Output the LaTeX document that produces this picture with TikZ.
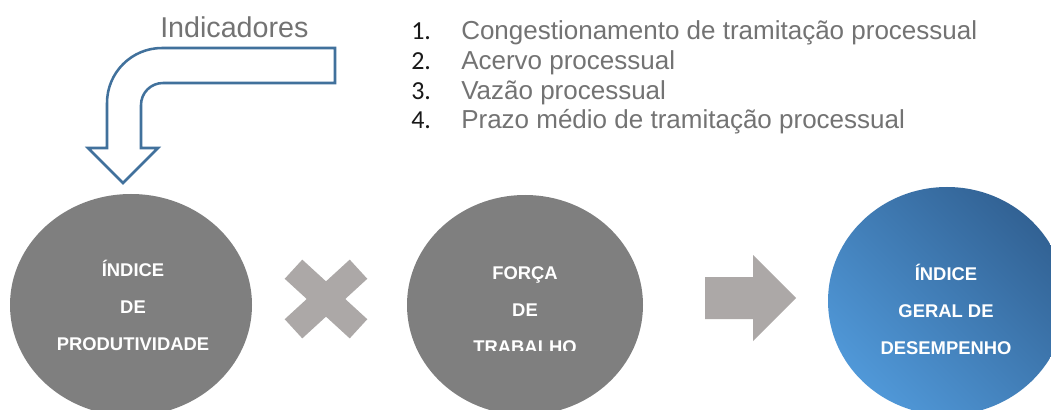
\documentclass[tikz,border=0pt]{standalone}
\usepackage{fontspec}
\setmainfont{Liberation Sans}
\newfontfamily\numfont{Carlito}
\usetikzlibrary{shapes.geometric}
\definecolor{circgray}{RGB}{127,127,127}
\definecolor{markgray}{RGB}{172,168,167}
\definecolor{outlineblue}{RGB}{65,113,156}
\definecolor{bluedark}{RGB}{50,98,148}
\definecolor{bluelight}{RGB}{80,152,216}
\definecolor{txtgray}{RGB}{115,115,115}
\definecolor{numblack}{RGB}{25,25,25}
\begin{document}
\begin{tikzpicture}[x=0.75pt,y=-0.75pt,
  bubble/.style={ellipse, inner sep=0pt, draw=none},
  bubbletext/.style={align=center, text=white, inner sep=0pt,
    font=\bfseries\fontsize{13.8pt}{27.75pt}\selectfont},
  itemnum/.style={anchor=base west, inner sep=0pt, text=numblack,
    font=\numfont\fontsize{19.5pt}{23pt}\selectfont},
  itemtext/.style={anchor=base west, inner sep=0pt, text=txtgray,
    font=\fontsize{19.5pt}{23pt}\selectfont},
  bentarrow/.style={draw=outlineblue, line width=1.9pt, fill=white},
  opmark/.style={markgray}
]
\useasboundingbox (0,0) rectangle (1051,410);
\clip (0,0) rectangle (1051,410);
\fill[white] (0,0) rectangle (1051,410);

% circles
\node[bubble, fill=circgray, minimum width=181.5pt, minimum height=166.5pt] (c1) at (131,305) {};
\node[bubble, fill=circgray, minimum width=177pt, minimum height=165pt] (c2) at (525,305) {};
\node[bubble, top color=bluedark, bottom color=bluelight, shading angle=-45,
      minimum width=178.5pt, minimum height=171pt] (c3) at (947,301) {};

% circle texts
\node[bubbletext] (t1) at (133,305) {ÍNDICE\\DE\\PRODUTIVIDADE};
\begin{scope}
  \clip (0,0) rectangle (1051,350);
  \node[bubbletext] (t2) at (525,310) {FORÇA\\DE\\TRABALHO};
\end{scope}
\node[bubbletext] (t3) at (946,309) {ÍNDICE\\GERAL DE\\DESEMPENHO};

% multiply mark
\draw[opmark, line width=19.5pt] (293.5,269.2) -- (358.5,328.8)
                                  (293.5,328.8) -- (358.5,269.2);

% block arrow
\fill[opmark] (705,277) -- (753,277) -- (753,255) -- (796,298)
              -- (753,341) -- (753,319) -- (705,319) -- cycle;

% bent arrow
\draw[bentarrow] (335,48) -- (162,48) .. controls (131.6,48) and (107,72.6) .. (107,103)
  -- (107,148) -- (88,148) -- (123,183) -- (158,148) -- (141,148) -- (141,105)
  .. controls (141,92.8) and (150.8,83) .. (163,83) -- (335,83) -- cycle;

% title
\node[anchor=base west, inner sep=0pt, text=txtgray,
      font=\fontsize{21.5pt}{25pt}\selectfont] (ind) at (160,38) {Indicadores};

% list
\node[itemnum] (n1) at (411,40) {1.};
\node[itemtext] (i1) at (461,40) {Congestionamento de tramitação processual};
\node[itemnum] (n2) at (411,69.7) {2.};
\node[itemtext] (i2) at (461,69.7) {Acervo processual};
\node[itemnum] (n3) at (411,99.3) {3.};
\node[itemtext] (i3) at (461,99.3) {Vazão processual};
\node[itemnum] (n4) at (411,129) {4.};
\node[itemtext] (i4) at (461,129) {Prazo médio de tramitação processual};
\end{tikzpicture}
\end{document}
